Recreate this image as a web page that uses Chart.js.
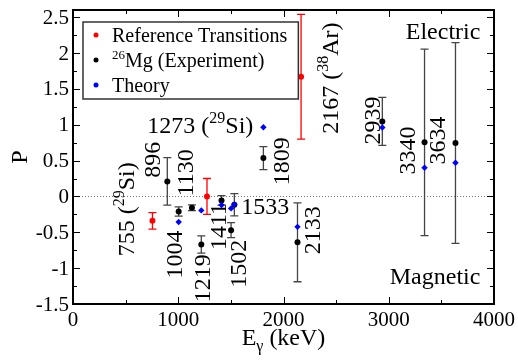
<!DOCTYPE html>
<html>
<head>
<meta charset="utf-8">
<script src="https://cdn.jsdelivr.net/npm/chart.js@4.4.1/dist/chart.umd.min.js"></script>
<style>
  html, body { margin: 0; padding: 0; background: #fff; }
</style>
</head>
<body>
<canvas id="c" width="518" height="360"></canvas>
<script>
// axis ticks
const xTicks = [0, 1000, 2000, 3000, 4000];
const yTicks = [-1.5, -1, -0.5, 0, 0.5, 1, 1.5, 2, 2.5];

// reference transitions (red)
const refE = [755, 1273, 2167];
const refP = [-0.34, 0.0, 1.67];
const refErr = [0.115, 0.25, 0.87];

// 26Mg experiment (black)
const expE = [896, 1004, 1130, 1219, 1411, 1502, 1533, 1809, 2133, 2939, 3340, 3634];
const expP = [0.21, -0.21, -0.157, -0.67, -0.055, -0.47, -0.115, 0.535, -0.64, 1.046, 0.754, 0.746];
const expErr = [0.33, 0.065, 0.04, 0.12, 0.065, 0.105, 0.155, 0.16, 0.55, 0.335, 1.3, 1.4];

// theory (blue)
const thE = [1004, 1219, 1411, 1502, 1533, 1809, 2133, 2939, 3340, 3634];
const thP = [-0.357, -0.195, -0.12, -0.167, -0.11, 0.965, -0.424, 0.962, 0.40, 0.47];

// transition labels: [text, superscript?] parts, anchored at (E, P)
const notes = [
    { parts: [['755 ('], ['29', 1], ['Si)']], e: 506, p: -0.18, rot: true },
    { parts: [['896']], e: 748, p: 0.51, rot: true },
    { parts: [['1004']], e: 963, p: -0.81, rot: true },
    { parts: [['1130']], e: 1066, p: 0.33, rot: true },
    { parts: [['1219']], e: 1229, p: -1.14, rot: true },
    { parts: [['1411']], e: 1380, p: -0.42, rot: true },
    { parts: [['1502']], e: 1570, p: -0.94, rot: true },
    { parts: [['1809']], e: 1978, p: 0.49, rot: true },
    { parts: [['2133']], e: 2272, p: -0.47, rot: true },
    { parts: [['2167 ('], ['38', 1], ['Ar)']], e: 2443, p: 1.65, rot: true },
    { parts: [['2939']], e: 2842, p: 1.06, rot: true },
    { parts: [['3340']], e: 3174, p: 0.64, rot: true },
    { parts: [['3634']], e: 3459, p: 0.78, rot: true },
    { parts: [['1273 ('], ['29', 1], ['Si)']], e: 1210, p: 0.99, rot: false },
    { parts: [['1533']], e: 1826, p: -0.14, rot: false },
    { parts: [['Electric']], e: 3516, p: 2.31, rot: false },
    { parts: [['Magnetic']], e: 3440, p: -1.11, rot: false }
];

const serif = '"Liberation Serif", "DejaVu Serif", serif';

function toXY(es, ps) {
    return es.map((e, i) => ({ x: e, y: ps[i] }));
}

function richWidth(ctx, parts, size) {
    let w = 0;
    parts.forEach(p => {
        ctx.font = (p[1] || p[2] ? Math.round(size * 0.66) : size) + 'px ' + serif;
        w += ctx.measureText(p[0]).width;
    });
    return w;
}

// parts: [text, sup, sub]
function drawRich(ctx, parts, size, x, y, center) {
    let cx = center ? x - richWidth(ctx, parts, size) / 2 : x;
    ctx.textAlign = 'left';
    ctx.textBaseline = 'alphabetic';
    parts.forEach(p => {
        const small = p[1] || p[2];
        ctx.font = (small ? Math.round(size * 0.66) : size) + 'px ' + serif;
        const dy = p[1] ? -size * 0.42 : (p[2] ? size * 0.25 : 0);
        ctx.fillText(p[0], cx, y + dy);
        cx += ctx.measureText(p[0]).width;
    });
}

const errorBars = {
    id: 'errorBars',
    beforeDatasetsDraw(chart) {
        const { ctx, chartArea: a, scales: { x, y } } = chart;
        ctx.save();
        // dotted zero line
        ctx.strokeStyle = '#777';
        ctx.lineWidth = 1;
        ctx.setLineDash([1, 2]);
        ctx.beginPath();
        ctx.moveTo(a.left, Math.round(y.getPixelForValue(0)) + 0.5);
        ctx.lineTo(a.right, Math.round(y.getPixelForValue(0)) + 0.5);
        ctx.stroke();
        ctx.setLineDash([]);

        function bars(es, ps, errs, color) {
            ctx.strokeStyle = color;
            ctx.lineWidth = 1.3;
            es.forEach((e, i) => {
                const px = x.getPixelForValue(e);
                const y1 = y.getPixelForValue(ps[i] + errs[i]);
                const y2 = y.getPixelForValue(ps[i] - errs[i]);
                ctx.beginPath();
                ctx.moveTo(px, y1); ctx.lineTo(px, y2);
                ctx.moveTo(px - 4, y1); ctx.lineTo(px + 4, y1);
                ctx.moveTo(px - 4, y2); ctx.lineTo(px + 4, y2);
                ctx.stroke();
            });
        }
        bars(expE, expP, expErr, '#444');
        bars(refE, refP, refErr, '#ff0000');
        ctx.restore();
    },
    afterDatasetsDraw(chart) {
        const { ctx, chartArea: a, scales: { x, y } } = chart;
        ctx.save();
        ctx.fillStyle = '#000';

        // labels on the transitions
        notes.forEach(n => {
            const size = 24;
            ctx.save();
            ctx.translate(x.getPixelForValue(n.e), y.getPixelForValue(n.p));
            if (n.rot) ctx.rotate(-Math.PI / 2);
            drawRich(ctx, n.parts, size, 0, size * 0.33, true);
            ctx.restore();
        });

        // frame + inward ticks
        ctx.strokeStyle = '#000';
        ctx.lineWidth = 2;
        ctx.strokeRect(a.left, a.top, a.right - a.left, a.bottom - a.top);
        ctx.lineWidth = 1;
        ctx.beginPath();
        for (let v = 0; v <= 4000; v += 500) {
            const px = Math.round(x.getPixelForValue(v)) + 0.5;
            const len = v % 1000 === 0 ? 7 : 4;
            ctx.moveTo(px, a.bottom); ctx.lineTo(px, a.bottom - len);
            ctx.moveTo(px, a.top); ctx.lineTo(px, a.top + len);
        }
        for (let v = -1.5; v <= 2.5; v += 0.25) {
            const py = Math.round(y.getPixelForValue(v)) + 0.5;
            const len = Math.abs(v * 2 - Math.round(v * 2)) < 1e-6 ? 7 : 4;
            ctx.moveTo(a.left, py); ctx.lineTo(a.left + len, py);
            ctx.moveTo(a.right, py); ctx.lineTo(a.right - len, py);
        }
        ctx.stroke();

        // tick labels
        ctx.fillStyle = '#000';
        ctx.font = '21px ' + serif;
        ctx.textAlign = 'center';
        ctx.textBaseline = 'top';
        xTicks.forEach(v => ctx.fillText(String(v), x.getPixelForValue(v), a.bottom + 6));
        ctx.textAlign = 'right';
        ctx.textBaseline = 'middle';
        yTicks.forEach(v => ctx.fillText(String(v), a.left - 4, y.getPixelForValue(v) + 1));

        // legend box
        const rows = [
            { color: '#ff0000', parts: [['Reference Transitions']] },
            { color: '#000000', parts: [['26', 1], ['Mg (Experiment)']] },
            { color: '#0000ff', parts: [['Theory']] }
        ];
        const lx = a.left + 10, ly = a.top + 12, lh = 77;
        let tw = 0;
        rows.forEach(r => { tw = Math.max(tw, richWidth(ctx, r.parts, 20)); });
        const lw = tw + 40;
        ctx.fillStyle = '#fff';
        ctx.fillRect(lx, ly, lw, lh);
        ctx.strokeStyle = '#333';
        ctx.lineWidth = 1.5;
        ctx.strokeRect(lx, ly, lw, lh);
        rows.forEach((r, i) => {
            const cy = ly + 13 + i * 25;
            ctx.fillStyle = r.color;
            ctx.beginPath();
            ctx.arc(lx + 13, cy, 2.5, 0, Math.PI * 2);
            ctx.fill();
            ctx.fillStyle = '#000';
            drawRich(ctx, r.parts, 20, lx + 29, cy + 7, false);
        });

        // axis titles
        ctx.fillStyle = '#000';
        drawRich(ctx, [['E'], ['γ', 0, 1], [' (keV)']], 24, (a.left + a.right) / 2, 345, true);
        ctx.save();
        ctx.translate(19, (a.top + a.bottom) / 2);
        ctx.rotate(-Math.PI / 2);
        drawRich(ctx, [['P']], 24, 0, 8, true);
        ctx.restore();

        ctx.restore();
    }
};

new Chart(document.getElementById('c'), {
    type: 'scatter',
    data: {
        datasets: [
            {
                label: 'Theory',
                data: toXY(thE, thP),
                backgroundColor: '#0000ff',
                borderColor: '#0000ff',
                pointStyle: 'rectRot',
                pointRadius: 3.2,
                borderWidth: 0
            },
            {
                label: 'Reference Transitions',
                data: toXY(refE, refP),
                backgroundColor: '#ff0000',
                borderColor: '#ff0000',
                pointRadius: 3,
                borderWidth: 0
            },
            {
                label: '26Mg (Experiment)',
                data: toXY(expE, expP),
                backgroundColor: '#000',
                borderColor: '#000',
                pointRadius: 3,
                borderWidth: 0
            }
        ]
    },
    options: {
        responsive: false,
        animation: false,
        layout: { padding: { left: 0, right: 24, top: 10, bottom: 0 } },
        plugins: {
            legend: { display: false },
            tooltip: { enabled: false }
        },
        scales: {
            x: {
                type: 'linear',
                min: 0,
                max: 4000,
                afterBuildTicks: s => { s.ticks = xTicks.map(v => ({ value: v })); },
                afterFit: s => { s.height = 56; s.paddingLeft = 0; s.paddingRight = 0; },
                grid: { display: false, drawTicks: false },
                border: { display: false },
                ticks: { display: false }
            },
            y: {
                type: 'linear',
                min: -1.5,
                max: 2.6,
                afterBuildTicks: s => { s.ticks = yTicks.map(v => ({ value: v })); },
                afterFit: s => { s.width = 73; s.paddingTop = 0; s.paddingBottom = 0; },
                grid: { display: false, drawTicks: false },
                border: { display: false },
                ticks: { display: false }
            }
        }
    },
    plugins: [errorBars]
});
</script>
</body>
</html>
